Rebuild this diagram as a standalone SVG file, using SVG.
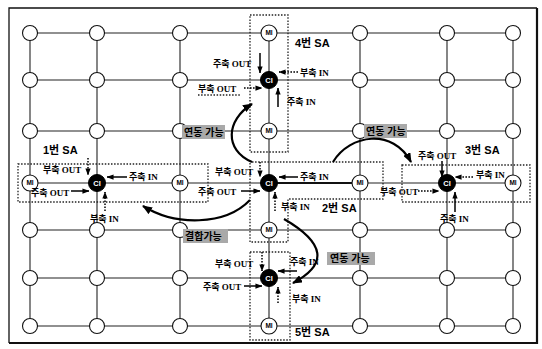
<svg xmlns="http://www.w3.org/2000/svg" width="542" height="349" viewBox="0 0 542 349">
<defs>
<style>
.g{stroke:#222;stroke-width:1.1;fill:none}
.gb{stroke:#111;stroke-width:2;fill:none}
.n{fill:#fff;stroke:#111;stroke-width:1.1}
.ci{fill:#000;stroke:#000;stroke-width:1}
.mt{font-family:"Liberation Sans",sans-serif;font-weight:bold;font-size:6.5px;fill:#000;text-anchor:middle}
.ct{font-family:"Liberation Sans",sans-serif;font-weight:bold;font-size:7.5px;fill:#fff;text-anchor:middle}
.sa{fill:none;stroke:#222;stroke-width:1.3;stroke-dasharray:1.5 1.6}
.t{font-family:"Liberation Serif","Noto Sans CJK KR",serif;font-weight:bold;font-size:9px;fill:#000}
.st{font-family:"Liberation Sans","Noto Sans CJK KR",sans-serif;font-weight:bold;font-size:11px;fill:#000}
.lb{fill:#a9a9a9}
.lt{font-family:"Liberation Sans","Noto Sans CJK KR",sans-serif;font-weight:bold;font-size:10px;fill:#000}
.a{stroke:#000;stroke-width:1.5;fill:none;marker-end:url(#ah)}
.d{stroke-dasharray:1.6 1.4}
.big{stroke:#000;stroke-width:2.2;fill:none;marker-end:url(#bh)}
.fr{stroke:#111;fill:none}
</style>
<marker id="ah" viewBox="0 0 8 6" refX="7.5" refY="3" markerWidth="7" markerHeight="6" markerUnits="userSpaceOnUse" orient="auto"><path d="M0,0 L8,3 L0,6 Z" fill="#000"/></marker>
<marker id="bh" viewBox="0 0 10 8" refX="9" refY="4" markerWidth="10" markerHeight="8" markerUnits="userSpaceOnUse" orient="auto"><path d="M0,0 L10,4 L0,8 Z" fill="#000"/></marker>
</defs>
<rect x="0" y="0" width="542" height="349" fill="#fff"/>
<g id="frame">
<path class="fr" stroke-width="1.3" d="M537,8 H9 V343"/>
<path class="fr" stroke-width="2.2" d="M9,343 H537 V8"/>
</g>

<g id="connectors">
<line class="g" x1="30" y1="33" x2="513" y2="33"/>
<line class="g" x1="30" y1="80" x2="513" y2="80"/>
<line class="g" x1="30" y1="131" x2="513" y2="131"/>
<line class="g" x1="30" y1="183" x2="513" y2="183"/>
<line class="g" x1="30" y1="230" x2="513" y2="230"/>
<line class="g" x1="30" y1="278" x2="513" y2="278"/>
<line class="g" x1="30" y1="326" x2="513" y2="326"/>
<line class="g" x1="30" y1="33" x2="30" y2="326"/>
<line class="g" x1="97" y1="33" x2="97" y2="326"/>
<line class="g" x1="180" y1="33" x2="180" y2="326"/>
<line class="g" x1="269" y1="33" x2="269" y2="326"/>
<line class="g" x1="360" y1="33" x2="360" y2="326"/>
<line class="g" x1="447" y1="33" x2="447" y2="326"/>
<line class="g" x1="513" y1="33" x2="513" y2="326"/>
<line class="gb" x1="269" y1="183" x2="360" y2="183"/>
</g>

<g id="sa-boxes">
<rect class="sa" x="250" y="15" width="38" height="137"/>
<path class="sa" d="M252,162 H383 V199 H288 V242 H250 V162"/>
<rect class="sa" x="18" y="164" width="190" height="38"/>
<rect class="sa" x="402" y="165" width="128" height="37"/>
<rect class="sa" x="250" y="252" width="40" height="88"/>
</g>

<g id="n-r1c1"><circle class="n" cx="30" cy="33" r="7.5"/></g>
<g id="n-r1c2"><circle class="n" cx="97" cy="33" r="7.5"/></g>
<g id="n-r1c3"><circle class="n" cx="180" cy="33" r="7.5"/></g>
<g id="n-r1c4"><circle class="n" cx="269" cy="33" r="8"/><text class="mt" x="269" y="35.3">MI</text></g>
<g id="n-r1c5"><circle class="n" cx="360" cy="33" r="7.5"/></g>
<g id="n-r1c6"><circle class="n" cx="447" cy="33" r="7.5"/></g>
<g id="n-r1c7"><circle class="n" cx="513" cy="33" r="7.5"/></g>

<g id="n-r2c1"><circle class="n" cx="30" cy="80" r="7.5"/></g>
<g id="n-r2c2"><circle class="n" cx="97" cy="80" r="7.5"/></g>
<g id="n-r2c3"><circle class="n" cx="180" cy="80" r="7.5"/></g>
<g id="n-r2c4"><circle class="ci" cx="269" cy="80" r="8.5"/><text class="ct" x="269" y="82.6">CI</text></g>
<g id="n-r2c5"><circle class="n" cx="360" cy="80" r="7.5"/></g>
<g id="n-r2c6"><circle class="n" cx="447" cy="80" r="7.5"/></g>
<g id="n-r2c7"><circle class="n" cx="513" cy="80" r="7.5"/></g>

<g id="n-r3c1"><circle class="n" cx="30" cy="131" r="7.5"/></g>
<g id="n-r3c2"><circle class="n" cx="97" cy="131" r="7.5"/></g>
<g id="n-r3c3"><circle class="n" cx="180" cy="131" r="7.5"/></g>
<g id="n-r3c4"><circle class="n" cx="269" cy="131" r="8"/><text class="mt" x="269" y="133.3">MI</text></g>
<g id="n-r3c5"><circle class="n" cx="360" cy="131" r="7.5"/></g>
<g id="n-r3c6"><circle class="n" cx="447" cy="131" r="7.5"/></g>
<g id="n-r3c7"><circle class="n" cx="513" cy="131" r="7.5"/></g>

<g id="n-r4c1"><circle class="n" cx="30" cy="183" r="8"/><text class="mt" x="30" y="185.3">MI</text></g>
<g id="n-r4c2"><circle class="ci" cx="97" cy="183" r="8.5"/><text class="ct" x="97" y="185.6">CI</text></g>
<g id="n-r4c3"><circle class="n" cx="180" cy="183" r="8"/><text class="mt" x="180" y="185.3">MI</text></g>
<g id="n-r4c4"><circle class="ci" cx="269" cy="183" r="8.5"/><text class="ct" x="269" y="185.6">CI</text></g>
<g id="n-r4c5"><circle class="n" cx="360" cy="183" r="8"/><text class="mt" x="360" y="185.3">MI</text></g>
<g id="n-r4c6"><circle class="ci" cx="447" cy="183" r="8.5"/><text class="ct" x="447" y="185.6">CI</text></g>
<g id="n-r4c7"><circle class="n" cx="513" cy="183" r="8"/><text class="mt" x="513" y="185.3">MI</text></g>

<g id="n-r5c1"><circle class="n" cx="30" cy="230" r="7.5"/></g>
<g id="n-r5c2"><circle class="n" cx="97" cy="230" r="7.5"/></g>
<g id="n-r5c3"><circle class="n" cx="180" cy="230" r="7.5"/></g>
<g id="n-r5c4"><circle class="n" cx="269" cy="230" r="8"/><text class="mt" x="269" y="232.3">MI</text></g>
<g id="n-r5c5"><circle class="n" cx="360" cy="230" r="7.5"/></g>
<g id="n-r5c6"><circle class="n" cx="447" cy="230" r="7.5"/></g>
<g id="n-r5c7"><circle class="n" cx="513" cy="230" r="7.5"/></g>

<g id="n-r6c1"><circle class="n" cx="30" cy="278" r="7.5"/></g>
<g id="n-r6c2"><circle class="n" cx="97" cy="278" r="7.5"/></g>
<g id="n-r6c3"><circle class="n" cx="180" cy="278" r="7.5"/></g>
<g id="n-r6c4"><circle class="ci" cx="269" cy="278" r="8.5"/><text class="ct" x="269" y="280.6">CI</text></g>
<g id="n-r6c5"><circle class="n" cx="360" cy="278" r="7.5"/></g>
<g id="n-r6c6"><circle class="n" cx="447" cy="278" r="7.5"/></g>
<g id="n-r6c7"><circle class="n" cx="513" cy="278" r="7.5"/></g>

<g id="n-r7c1"><circle class="n" cx="30" cy="326" r="7.5"/></g>
<g id="n-r7c2"><circle class="n" cx="97" cy="326" r="7.5"/></g>
<g id="n-r7c3"><circle class="n" cx="180" cy="326" r="7.5"/></g>
<g id="n-r7c4"><circle class="n" cx="269" cy="326" r="8"/><text class="mt" x="269" y="328.3">MI</text></g>
<g id="n-r7c5"><circle class="n" cx="360" cy="326" r="7.5"/></g>
<g id="n-r7c6"><circle class="n" cx="447" cy="326" r="7.5"/></g>
<g id="n-r7c7"><circle class="n" cx="513" cy="326" r="7.5"/></g>

<g id="sa4-labels">
<text class="st" x="295" y="47">4번 SA</text>
<text class="t" x="213" y="67">주축 OUT</text>
<line class="a" x1="260" y1="53" x2="260" y2="73"/>
<text class="t" x="300" y="76">부축 IN</text>
<line class="a d" x1="298" y1="72" x2="279" y2="72"/>
<text class="t" x="198" y="92">부축 OUT</text>
<line class="sa" x1="198" y1="95" x2="240" y2="95"/>
<line class="a d" x1="244" y1="88" x2="262" y2="88"/>
<text class="t" x="287" y="105">주축 IN</text>
<line class="a" x1="278" y1="107" x2="278" y2="88"/>
</g>

<g id="sa1-labels">
<text class="st" x="43" y="154">1번 SA</text>
<text class="t" x="43" y="173">부축 OUT</text>
<line class="a d" x1="88" y1="158" x2="88" y2="175"/>
<text class="t" x="31" y="196">주축 OUT</text>
<line class="a" x1="71" y1="191" x2="89" y2="191"/>
<text class="t" x="129" y="180">주축 IN</text>
<line class="a" x1="127" y1="177" x2="107" y2="177"/>
<text class="t" x="90" y="222">부축 IN</text>
<line class="a d" x1="105" y1="211" x2="105" y2="192"/>
</g>

<g id="sa2-labels">
<text class="t" x="215" y="175">부축 OUT</text>
<line class="a d" x1="260" y1="162" x2="260" y2="177"/>
<text class="t" x="198" y="195">주축 OUT</text>
<line class="a" x1="241" y1="191" x2="260" y2="191"/>
<text class="t" x="300" y="180">주축 IN</text>
<line class="a" x1="298" y1="177" x2="279" y2="177"/>
<text class="t" x="281" y="210">부축 IN</text>
<line class="a d" x1="275" y1="211" x2="275" y2="192"/>
<text class="st" x="322" y="212">2번 SA</text>
</g>

<g id="sa3-labels">
<text class="st" x="465" y="154">3번 SA</text>
<text class="t" x="418" y="159">주축 OUT</text>
<line class="a" x1="442" y1="161" x2="442" y2="177"/>
<text class="t" x="476" y="178">부축 IN</text>
<line class="a d" x1="473" y1="177" x2="455" y2="177"/>
<text class="t" x="380" y="195">부축 OUT</text>
<line class="a d" x1="418" y1="191" x2="439" y2="191"/>
<text class="t" x="440" y="222">주축 IN</text>
<line class="a" x1="455" y1="212" x2="455" y2="192"/>
</g>

<g id="sa5-labels">
<text class="t" x="215" y="267">부축 OUT</text>
<line class="a d" x1="262" y1="252" x2="262" y2="271"/>
<text class="t" x="290" y="265">주축 IN</text>
<line class="a" x1="297" y1="271" x2="278" y2="271"/>
<text class="t" x="203" y="290">주축 OUT</text>
<line class="a" x1="244" y1="286" x2="262" y2="286"/>
<text class="t" x="292" y="302">부축 IN</text>
<line class="a d" x1="278" y1="303" x2="278" y2="287"/>
<text class="st" x="295" y="336">5번 SA</text>
</g>

<g id="link-labels">
<rect class="lb" x="182" y="125" width="43" height="14"/>
<text class="lt" x="184" y="136">연동 가능</text>
<rect class="lb" x="364" y="124" width="43" height="14"/>
<text class="lt" x="366" y="135">연동 가능</text>
<rect class="lb" x="183" y="229" width="45" height="14"/>
<text class="lt" x="185" y="240">결합가능</text>
<rect class="lb" x="327" y="252" width="48" height="13"/>
<text class="lt" x="330" y="262">연동 가능</text>
</g>

<g id="link-arrows">
<path class="big" d="M252,162 C224,150 226,120 252,104"/>
<path class="big" d="M333,162 C350,134 393,128 411,162"/>
<path class="big" d="M250,200 C225,226 175,226 143,206"/>
<path class="big" d="M284,219 Q346,255 293,283"/>
</g>
</svg>
